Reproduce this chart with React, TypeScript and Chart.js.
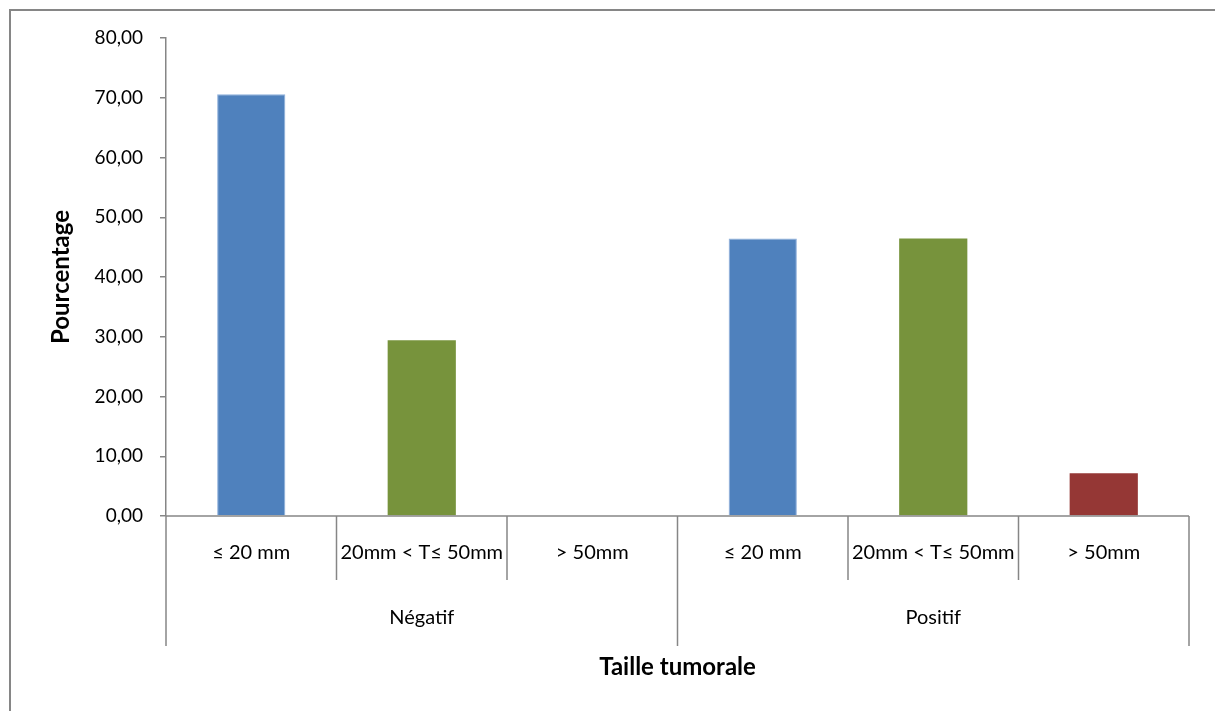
import { useEffect, useRef } from 'react';
import { Chart, registerables } from 'chart.js';

Chart.register(...registerables);

// Inner category labels (tumour size) and their outer grouping (status)
const sizeLabels = ['≤ 20 mm', '20mm < T≤ 50mm', '> 50mm', '≤ 20 mm', '20mm < T≤ 50mm', '> 50mm'];
const groupLabels = ['Négatif', 'Positif'];
const groupSize = 3;

// Percentages per bar
const percentages = [70.59, 29.41, 0, 46.43, 46.43, 7.14];
const barColors = ['#4F81BD', '#77933C', '#953735', '#4F81BD', '#77933C', '#953735'];
const barEdgeColors = ['#8DAFDB', '#77933C', '#953735', '#8DAFDB', '#77933C', '#953735'];
const barEdgeWidths = [1, 0, 0, 1, 0, 0];

const yMin = 0;
const yMax = 80;
const yStep = 10;

const yAxisTitle = 'Pourcentage';
const xAxisTitle = 'Taille tumorale';

const AXIS_GREY = '#868686';
const FONT = 'Lato, "Open Sans", sans-serif';

const formatFr = (v: number) => v.toFixed(2).replace('.', ',');

const framePlugin = {
  id: 'frame',
  beforeDraw(chart: any) {
    const { ctx, width, height } = chart;
    ctx.save();
    ctx.fillStyle = '#ffffff';
    ctx.fillRect(0, 0, width, height);
    ctx.strokeStyle = AXIS_GREY;
    ctx.lineWidth = 2;
    ctx.beginPath();
    ctx.moveTo(10, height);
    ctx.lineTo(10, 10);
    ctx.lineTo(width, 10);
    ctx.stroke();
    ctx.restore();
  },
};

const multiLevelAxisPlugin = {
  id: 'multiLevelAxis',
  afterDraw(chart: any) {
    const { ctx, chartArea } = chart;
    const x = chart.scales.x;
    const n = sizeLabels.length;
    const step = (chartArea.right - chartArea.left) / n;
    const base = chartArea.bottom;
    const innerDepth = 64;
    const outerDepth = 130;

    ctx.save();
    ctx.strokeStyle = AXIS_GREY;
    ctx.lineWidth = 1.5;

    // axis line
    ctx.beginPath();
    ctx.moveTo(chartArea.left, base);
    ctx.lineTo(chartArea.right, base);
    ctx.stroke();

    // separators: full depth between groups, short between sizes
    for (let i = 0; i <= n; i++) {
      const px = i < n ? x.getPixelForValue(i) - step / 2 : x.getPixelForValue(n - 1) + step / 2;
      const depth = i % groupSize === 0 ? outerDepth : innerDepth;
      ctx.beginPath();
      ctx.moveTo(px, base);
      ctx.lineTo(px, base + depth);
      ctx.stroke();
    }

    ctx.fillStyle = '#000000';
    ctx.font = `20px ${FONT}`;
    ctx.textAlign = 'center';
    ctx.textBaseline = 'middle';
    sizeLabels.forEach((label, i) => {
      ctx.fillText(label, x.getPixelForValue(i), base + 37);
    });
    groupLabels.forEach((label, g) => {
      const first = x.getPixelForValue(g * groupSize);
      const last = x.getPixelForValue(g * groupSize + groupSize - 1);
      ctx.fillText(label, (first + last) / 2, base + 102);
    });
    ctx.restore();
  },
};

export default function App() {
  const canvasRef = useRef<HTMLCanvasElement | null>(null);

  useEffect(() => {
    if (!canvasRef.current) return;
    const chart = new Chart(canvasRef.current, {
      type: 'bar',
      data: {
        labels: sizeLabels,
        datasets: [
          {
            data: percentages,
            backgroundColor: barColors,
            borderColor: barEdgeColors,
            borderWidth: barEdgeWidths,
            barPercentage: 0.4,
            categoryPercentage: 1,
          },
        ],
      },
      options: {
        responsive: false,
        animation: false,
        layout: { padding: { top: 38, right: 26, bottom: 0, left: 0 } },
        plugins: {
          legend: { display: false },
          tooltip: { enabled: false },
        },
        scales: {
          x: {
            type: 'category',
            offset: true,
            ticks: { display: false },
            grid: { display: false },
            border: { display: false },
            title: {
              display: true,
              text: xAxisTitle,
              color: '#000',
              font: { family: FONT, size: 24, weight: 'bold' },
              padding: { top: 0, bottom: 29 },
            },
            afterFit: (scale: any) => {
              scale.height = 195;
            },
          },
          y: {
            min: yMin,
            max: yMax,
            ticks: {
              stepSize: yStep,
              color: '#000',
              padding: 17,
              font: { family: FONT, size: 19 },
              callback: (v: any) => formatFr(Number(v)),
            },
            grid: {
              drawOnChartArea: false,
              drawTicks: true,
              tickLength: 6,
              color: AXIS_GREY,
              lineWidth: 1.5,
            },
            border: { display: true, color: AXIS_GREY, width: 1.5 },
            title: {
              display: true,
              text: yAxisTitle,
              color: '#000',
              font: { family: FONT, size: 24, weight: 'bold' },
              padding: { top: 47, bottom: 0 },
            },
            afterFit: (scale: any) => {
              scale.width = 166;
            },
          },
        },
      },
      plugins: [framePlugin, multiLevelAxisPlugin],
    });
    return () => chart.destroy();
  }, []);

  return (
    <div style={{ position: 'absolute', left: 0, top: 0, width: 1215, height: 711 }}>
      <canvas ref={canvasRef} width={1215} height={711} style={{ display: 'block' }} />
    </div>
  );
}
